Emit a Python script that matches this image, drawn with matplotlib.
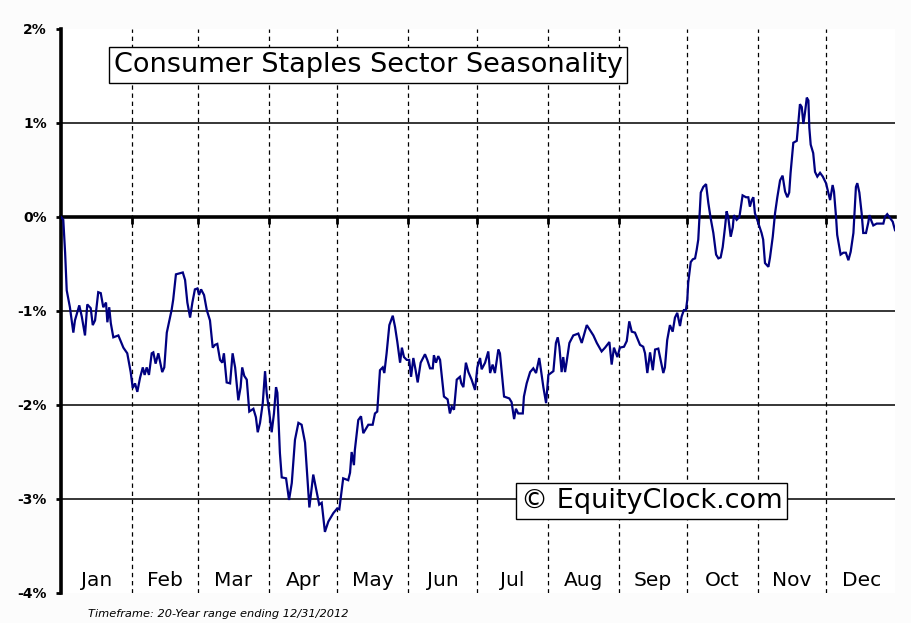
import matplotlib
matplotlib.use("Agg")
import matplotlib.pyplot as plt
import matplotlib.transforms as mtransforms
import numpy as np

# ---- data -------------------------------------------------------------
months = ["Jan", "Feb", "Mar", "Apr", "May", "Jun",
          "Jul", "Aug", "Sep", "Oct", "Nov", "Dec"]
days_in_month = [31, 29, 31, 30, 31, 30, 31, 31, 30, 31, 30, 31]

# day of year and seasonal return (%)
day = [0.0, 1.0, 1.8, 2.5, 3.9, 5.4, 6.1, 8.0, 9.1, 10.5, 11.5, 13.0, 13.9, 14.9,
       16.3, 17.4, 18.5, 19.7, 20.3, 21.1, 21.8, 22.9, 25.1, 27.3, 29.0, 30.5,
       31.4, 32.4, 33.4, 34.6, 35.8, 36.6, 37.5, 38.5, 39.7, 40.4, 41.4, 42.6,
       44.3, 45.2, 46.3, 48.4, 49.1, 50.3, 53.3, 54.3, 55.3, 56.5, 57.5, 58.6,
       59.7, 60.4, 61.3, 62.6, 63.8, 65.2, 66.4, 67.4, 68.4, 69.6, 70.6, 71.3,
       72.5, 74.0, 75.1, 76.2, 77.6, 78.6, 79.3, 80.2, 81.3, 82.4, 84.2, 85.3,
       86.1, 87.1, 88.3, 89.3, 90.0, 91.2, 92.2, 93.2, 94.1, 94.7, 95.8, 96.6,
       98.5, 99.8, 101.0, 102.4, 103.9, 105.3, 106.8, 108.7, 110.4, 113.0,
       114.1, 115.5, 117.0, 119.2, 120.9, 121.8, 123.5, 125.7, 126.5, 127.2,
       128.2, 128.6, 130.1, 131.3, 132.3, 134.5, 136.4, 137.4, 138.4, 139.6,
       140.8, 141.5, 142.5, 143.7, 145.2, 146.2, 147.2, 148.4, 149.2, 150.1,
       151.3, 152.4, 153.2, 154.2, 155.2, 156.1, 157.4, 159.3, 160.3, 161.5,
       162.7, 163.2, 164.1, 165.1, 165.9, 167.0, 167.6, 169.2, 170.2, 171.0,
       172.0, 173.2, 174.6, 175.2, 176.1, 177.2, 178.3, 179.7, 181.2, 182.2,
       183.4, 184.1, 185.6, 187.0, 187.8, 188.9, 189.9, 191.4, 192.1, 192.9,
       193.9, 196.2, 197.2, 198.3, 199.1, 200.1, 202.1, 202.6, 203.8, 205.3,
       206.7, 207.9, 209.3, 209.9, 211.1, 212.3, 213.3, 215.5, 216.6, 217.4,
       218.1, 219.1, 219.8, 220.6, 221.3, 222.5, 224.2, 226.4, 227.9, 230.1,
       233.0, 234.5, 236.6, 238.1, 240.0, 241.0, 242.0, 243.5, 244.6, 246.4,
       247.6, 248.7, 249.8, 251.2, 252.2, 253.4, 254.8, 255.6, 256.6, 257.8,
       259.0, 260.0, 261.4, 262.6, 263.6, 264.3, 265.3, 266.5, 267.7, 268.7,
       269.7, 270.9, 271.6, 272.6, 273.5, 274.1, 274.5, 275.6, 276.5, 277.5,
       278.2, 278.9, 280.0, 281.1, 282.3, 283.3, 284.3, 285.5, 286.7, 287.7,
       288.7, 289.6, 290.6, 291.3, 292.0, 293.1, 294.0, 294.5, 295.7, 296.9,
       298.3, 299.8, 300.8, 301.5, 302.3, 303.0, 303.7, 304.7, 306.6, 307.3,
       308.1, 309.6, 310.3, 311.5, 312.5, 313.5, 314.7, 315.8, 316.9, 317.9,
       318.7, 319.3, 320.5, 322.0, 322.7, 323.4, 324.2, 324.9, 325.6, 326.4,
       327.1, 327.5, 328.1, 329.2, 330.0, 331.0, 332.2, 333.4, 334.8, 335.8,
       336.6, 337.7, 338.3, 339.2, 339.7, 341.2, 342.4, 343.5, 344.6, 345.6,
       346.8, 347.9, 348.5, 349.4, 350.4, 351.1, 352.3, 353.3, 353.8, 354.8,
       355.5, 357.0, 359.9, 360.6, 361.6, 362.8, 364.0, 365.0]

ret = [0.00, -0.03, -0.38, -0.78, -0.96, -1.23, -1.10, -0.94, -1.06, -1.26, -0.93,
       -0.97, -1.15, -1.10, -0.80, -0.81, -0.96, -0.91, -1.12, -0.96, -1.13, -1.28,
       -1.26, -1.39, -1.45, -1.65, -1.82, -1.77, -1.86, -1.71, -1.60, -1.68, -1.60,
       -1.68, -1.45, -1.44, -1.56, -1.45, -1.65, -1.60, -1.23, -0.99, -0.88, -0.61,
       -0.59, -0.67, -0.91, -1.07, -0.91, -0.77, -0.76, -0.83, -0.77, -0.83, -0.99,
       -1.10, -1.39, -1.36, -1.35, -1.52, -1.55, -1.45, -1.76, -1.77, -1.45, -1.60,
       -1.95, -1.81, -1.60, -1.69, -1.73, -2.07, -2.04, -2.13, -2.29, -2.19, -1.98,
       -1.64, -1.87, -2.09, -2.29, -2.09, -1.81, -1.87, -2.51, -2.77, -2.78, -3.01,
       -2.83, -2.37, -2.19, -2.21, -2.40, -3.09, -2.74, -3.06, -3.04, -3.35, -3.24,
       -3.15, -3.10, -3.11, -2.78, -2.80, -2.72, -2.50, -2.64, -2.48, -2.16, -2.12,
       -2.30, -2.21, -2.21, -2.09, -2.07, -1.63, -1.60, -1.66, -1.45, -1.15, -1.05,
       -1.17, -1.33, -1.55, -1.39, -1.49, -1.52, -1.52, -1.70, -1.50, -1.63, -1.76,
       -1.55, -1.46, -1.52, -1.61, -1.61, -1.47, -1.55, -1.48, -1.52, -1.77, -1.91,
       -1.94, -2.09, -2.02, -2.05, -1.73, -1.70, -1.77, -1.81, -1.55, -1.65, -1.73,
       -1.84, -1.60, -1.50, -1.62, -1.55, -1.43, -1.66, -1.57, -1.66, -1.41, -1.45,
       -1.66, -1.91, -1.93, -1.97, -2.15, -2.04, -2.09, -2.09, -1.91, -1.77, -1.65,
       -1.61, -1.66, -1.50, -1.60, -1.81, -1.98, -1.68, -1.64, -1.34, -1.28, -1.38,
       -1.65, -1.49, -1.65, -1.54, -1.34, -1.26, -1.24, -1.34, -1.15, -1.26, -1.34,
       -1.43, -1.39, -1.33, -1.57, -1.39, -1.49, -1.39, -1.38, -1.32, -1.11, -1.22,
       -1.23, -1.29, -1.36, -1.38, -1.45, -1.66, -1.44, -1.63, -1.41, -1.40, -1.54,
       -1.66, -1.60, -1.31, -1.15, -1.22, -1.07, -1.02, -1.16, -1.06, -0.99, -0.99,
       -0.88, -0.70, -0.48, -0.45, -0.44, -0.35, -0.24, 0.26, 0.32, 0.35, 0.15,
       -0.01, -0.17, -0.40, -0.44, -0.43, -0.32, -0.11, 0.06, 0.00, -0.21, -0.11,
       0.02, -0.03, 0.00, 0.23, 0.21, 0.21, 0.11, 0.18, 0.21, 0.04, -0.03, -0.17,
       -0.24, -0.49, -0.53, -0.43, -0.21, 0.04, 0.21, 0.39, 0.44, 0.27, 0.21, 0.26,
       0.47, 0.79, 0.81, 1.00, 1.20, 1.17, 0.99, 1.11, 1.27, 1.24, 0.95, 0.77, 0.68,
       0.48, 0.43, 0.47, 0.43, 0.36, 0.26, 0.18, 0.34, 0.27, 0.00, -0.19, -0.40,
       -0.38, -0.38, -0.46, -0.37, -0.17, 0.32, 0.36, 0.26, 0.04, -0.17, -0.17,
       -0.06, 0.02, -0.05, -0.09, -0.07, -0.07, 0.00, 0.03, -0.01, -0.05, -0.14]

y_ticks = [2, 1, 0, -1, -2, -3, -4]
y_tick_labels = ["2%", "1%", "0%", "-1%", "-2%", "-3%", "-4%"]
title = "Consumer Staples Sector Seasonality"
watermark = "\u00a9 EquityClock.com"
footer = "Timeframe: 20-Year range ending 12/31/2012"

# ---- figure -----------------------------------------------------------
W, H = 911, 623
fig = plt.figure(figsize=(W / 100, H / 100), dpi=100, facecolor="#fcfcfc")
ax = fig.add_axes([61 / W, 1 - 593 / H, 834 / W, 564 / H])
ax.set_facecolor("white")
ax.set_xlim(0, 365)
ax.set_ylim(-4, 2)

bounds = np.cumsum([0] + days_in_month)
mids = (bounds[:-1] + bounds[1:]) / 2

# horizontal grid lines
for v in y_ticks:
    if v not in (0, 2, -4):
        ax.axhline(v, color="black", lw=1.1, zorder=1)

# month dividers (dashed)
for b in bounds[1:-1]:
    ax.axvline(b, color="black", lw=0.9, ls=(0, (3.5, 3.0)), zorder=1)

# spines
for s in ("top", "right"):
    ax.spines[s].set_visible(False)
ax.spines["left"].set_linewidth(2.6)
ax.spines["bottom"].set_position(("data", 0))
ax.spines["bottom"].set_linewidth(2.6)
ax.spines["bottom"].set_zorder(2)

ax.set_yticks(y_ticks)
ax.set_yticklabels(y_tick_labels, fontsize=10, fontweight="bold")
ax.tick_params(axis="y", direction="out", length=3.5, width=2, pad=6.5)

ax.set_xticks(bounds[1:-1])
ax.set_xticklabels([])
ax.tick_params(axis="x", direction="out", length=5, width=2)

# month labels
trans = mtransforms.blended_transform_factory(ax.transData, ax.transAxes)
for m, x in zip(months, mids):
    ax.text(x, 0.023, m, transform=trans, ha="center", va="center",
            fontsize=14.5, color="black")

# series
ax.plot(day, ret, color="#000080", lw=1.6, zorder=3, solid_joinstyle="miter")

# title box
ax.text((368 - 61) / 834, (593 - 65) / 564, title, transform=ax.transAxes,
        ha="center", va="center", fontsize=19.5, color="black", zorder=5,
        bbox=dict(boxstyle="square,pad=0.17", fc="white", ec="black", lw=1))

# watermark box
ax.text((651.5 - 61) / 834, (593 - 501) / 564, watermark, transform=ax.transAxes,
        ha="center", va="center", fontsize=19.5, color="black", zorder=5,
        bbox=dict(boxstyle="square,pad=0.17", fc="white", ec="black", lw=1))

# footer
fig.text(88 / W, 1 - 614 / H, footer, ha="left", va="center",
         fontsize=8.2, style="italic", color="black")

fig.savefig("out.png", dpi=100, facecolor=fig.get_facecolor())
